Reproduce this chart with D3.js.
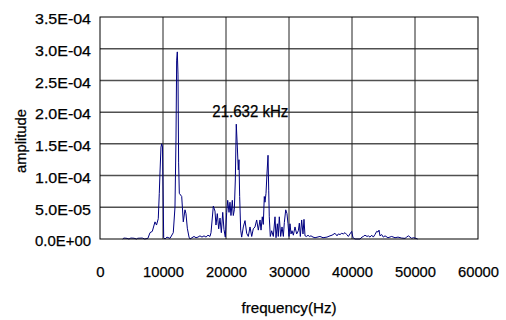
<!DOCTYPE html>
<html><head><meta charset="utf-8">
<script src="https://cdn.jsdelivr.net/npm/d3@7"></script>
<style>
html,body{margin:0;padding:0;background:#fff;}
svg text{font-family:"Liberation Sans",Arial,sans-serif;fill:#000;stroke:#000;stroke-width:0.25px;}
</style></head>
<body><svg id="c" width="506" height="320"></svg>
<script>
const yTickValues = [0, 5e-5, 1e-4, 1.5e-4, 2e-4, 2.5e-4, 3e-4, 3.5e-4];
const yTickLabels = ["0.0E+00","5.0E-05","1.0E-04","1.5E-04","2.0E-04","2.5E-04","3.0E-04","3.5E-04"];
const xTickValues = [0, 10000, 20000, 30000, 40000, 50000, 60000];
const xTickLabels = ["0","10000","20000","30000","40000","50000","60000"];
const annotationText = "21.632 kHz";
const annotationFreq = 21632;

const freq = [3600,3800,4300,4600,4900,5400,5800,6000,6700,7100,7600,7940,8300,8730,8970,9250,9410,9520,9680,9790,9920,
10110,10320,10630,11110,11630,11900,12060,12170,12270,12380,12480,12590,12970,13220,13490,13650,13860,14130,14290,
14600,14920,15240,15550,15870,16190,16510,16830,17140,17460,17620,17990,18250,18410,18620,18840,19050,19260,19480,19680,19890,
20110,20270,20480,20630,20790,21000,21160,21320,21480,21630,21800,21950,22060,22170,22330,22490,22750,23020,23280,23540,23810,
24080,24330,24600,24870,25130,25400,25560,25760,25920,26080,26190,26350,26510,26670,26780,26870,27030,27250,27510,27780,27940,
28150,28300,28460,28680,28890,29100,29260,29480,29680,29840,30000,30160,30320,30480,30690,30950,31220,31480,31640,31800,32010,
32220,32380,32540,32810,33020,33230,33490,33810,34130,34920,35400,36030,36510,36830,37300,37620,37830,38100,38370,38620,38890,
39160,39420,39680,39950,40160,40480,41270,41590,41800,42060,42390,42590,42860,43130,43380,43650,43920,44130,44290,44440,44710,
44970,45240,45710,46300,46830,47300,47890,48420,48680,48940,49210,49480,49740,50000,50430];

const amplitude = [0,1.5e-6,1.0e-6,0,1.5e-6,1.2e-6,0,1.2e-6,1.5e-6,0,1.0e-6,1.0e-5,1.2e-5,2.7e-5,2.2e-5,3.2e-5,7.2e-5,1.04e-4,1.45e-4,1.50e-4,1.45e-4,
2e-6,0,3e-6,1e-6,1e-5,5e-5,1.56e-4,2.82e-4,2.95e-4,2.6e-4,1.2e-4,7.2e-5,6.7e-5,2.7e-5,4.6e-5,4.0e-5,1.7e-5,3e-6,0,
2e-6,4e-6,2e-6,3e-6,5e-6,3e-6,5e-6,3e-6,6e-6,4e-6,1.0e-5,5.2e-5,4.4e-5,2.2e-5,4.0e-5,1.6e-5,3.3e-5,1.0e-5,4.2e-5,1.5e-5,3e-6,
4.2e-5,6.1e-5,4.2e-5,5.8e-5,3.7e-5,6.1e-5,3.7e-5,4.6e-5,9.3e-5,1.81e-4,1.45e-4,1.09e-4,1.25e-4,6.7e-5,1.4e-5,3e-6,1.9e-5,2.9e-5,9e-6,4e-6,1.9e-5,
4e-6,1.6e-5,1.9e-5,3.0e-5,1.4e-5,3.0e-5,1.4e-5,3.5e-5,2.3e-5,6.7e-5,5.8e-5,7.2e-5,1.04e-4,1.32e-4,7.7e-5,3.5e-5,4e-6,1.3e-5,4e-6,3.5e-5,2e-6,
2.4e-5,4e-6,3.5e-5,4e-6,1.9e-5,4e-6,2.6e-5,4.6e-5,4.0e-5,2.4e-5,4e-6,2.4e-5,8e-6,1.3e-5,6e-6,1.9e-5,8e-6,1.3e-5,2.5e-5,4e-6,3.0e-5,
8e-6,3.1e-5,5e-6,4e-6,6e-6,4e-6,5e-6,3e-6,2e-6,4e-6,2e-6,3e-6,5e-6,6e-6,9e-6,5e-6,8e-6,7e-6,9e-6,8e-6,1.0e-5,
7e-6,4e-6,8e-6,1.2e-5,2e-6,0,0,3e-6,4e-6,6e-6,4e-6,5e-6,3e-6,6e-6,3e-6,7e-6,1.2e-5,1.1e-5,1.4e-5,5e-6,7e-6,
3e-6,5e-6,2e-6,4e-6,2e-6,3e-6,1.5e-6,1e-6,3e-6,5e-6,3e-6,1e-6,2e-6,1.5e-6,0];

const svg = d3.select("#c");
const L = 100, R = 478, T = 17, B = 239;
const x = d3.scaleLinear().domain([0, 60000]).range([L, R]);
const y = d3.scaleLinear().domain([0, 3.5e-4]).range([B, T]);

// horizontal gridlines
svg.append("g").selectAll("line").data(yTickValues.slice(1, -1)).join("line")
  .attr("x1", L).attr("x2", R).attr("y1", d => y(d)).attr("y2", d => y(d))
  .attr("stroke", "#505050").attr("stroke-width", 1.5);
// vertical gridlines
svg.append("g").selectAll("line").data(xTickValues.slice(1, -1)).join("line")
  .attr("y1", T).attr("y2", B).attr("x1", d => x(d)).attr("x2", d => x(d))
  .attr("stroke", "#222").attr("stroke-width", 1);

// line
const pts = freq.map((f, i) => [f, amplitude[i]]);
svg.append("path").datum(pts)
  .attr("d", d3.line().x(d => x(d[0])).y(d => y(d[1])))
  .attr("fill", "none").attr("stroke", "#000080").attr("stroke-width", 1);

// border
svg.append("rect").attr("x", L).attr("y", T).attr("width", R - L).attr("height", B - T)
  .attr("fill", "none").attr("stroke", "#000").attr("stroke-width", 1);

// axes
const yAxis = d3.axisLeft(y).tickValues(yTickValues).tickSize(0).tickPadding(9)
  .tickFormat((d, i) => yTickLabels[i]);
const gy = svg.append("g").attr("transform", `translate(${L},0)`).call(yAxis);
gy.select(".domain").remove();
gy.selectAll("text").attr("font-size", 15).attr("dy", "0.45em")
  .attr("textLength", 56).attr("lengthAdjust", "spacingAndGlyphs")
  .style("font-family", '"Liberation Sans",Arial,sans-serif');

const xAxis = d3.axisBottom(x).tickValues(xTickValues).tickSize(0).tickPadding(27)
  .tickFormat((d, i) => xTickLabels[i]);
const gx = svg.append("g").attr("transform", `translate(0,${B})`).call(xAxis);
gx.select(".domain").remove();
gx.selectAll("text").attr("font-size", 15).attr("dy", "0")
  .each(function(d, i) { if (xTickLabels[i].length > 1) d3.select(this).attr("textLength", 41).attr("lengthAdjust", "spacingAndGlyphs"); })
  .style("font-family", '"Liberation Sans",Arial,sans-serif');
gx.selectAll(".tick text").attr("y", 38);

// annotation
svg.append("text").attr("x", x(annotationFreq) - 24).attr("y", 117)
  .attr("font-size", 16).attr("textLength", 76).attr("lengthAdjust", "spacingAndGlyphs")
  .text(annotationText);

// axis titles
svg.append("text").attr("x", (L + R) / 2).attr("y", 313).attr("text-anchor", "middle")
  .attr("font-size", 15).attr("textLength", 95).attr("lengthAdjust", "spacingAndGlyphs")
  .text("frequency(Hz)");
svg.append("text").attr("transform", `translate(26,141) rotate(-90)`).attr("text-anchor", "middle")
  .attr("font-size", 14).attr("textLength", 64).attr("lengthAdjust", "spacingAndGlyphs")
  .text("amplitude");
</script></body></html>
